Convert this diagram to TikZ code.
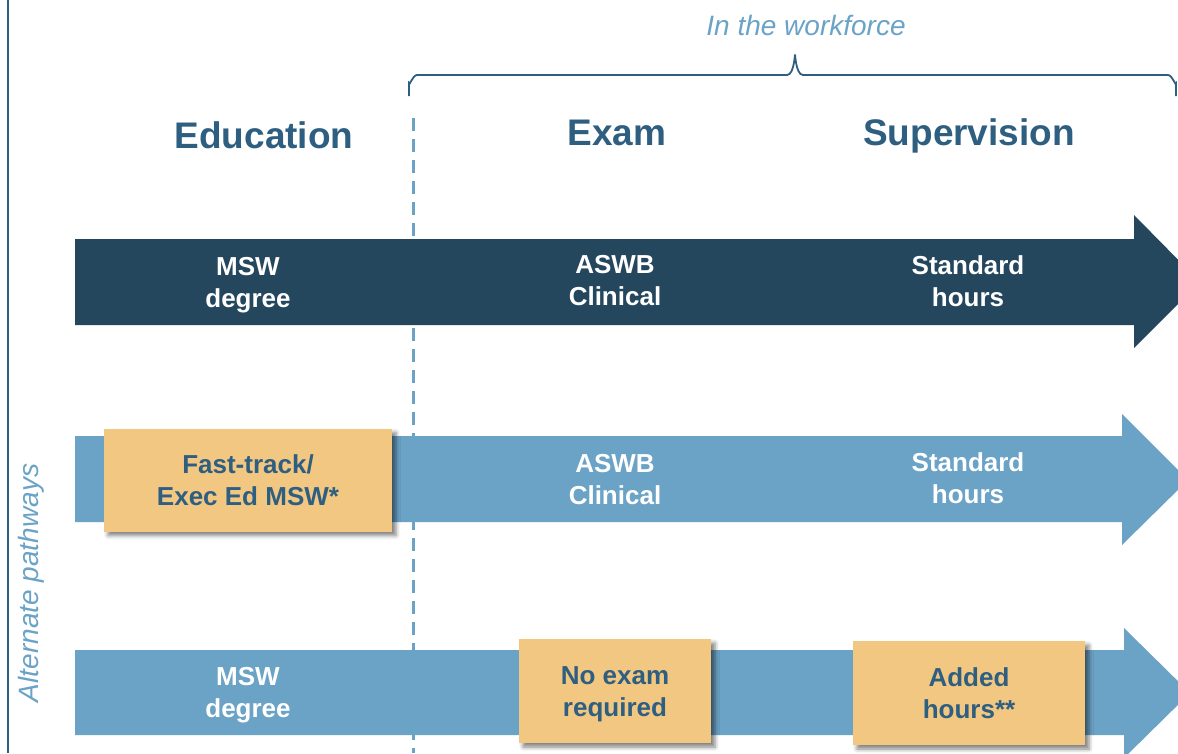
\documentclass[tikz,border=0pt]{standalone}
\usepackage{fontspec}
\setmainfont{Liberation Sans}
\usetikzlibrary{shadows.blur}
\usetikzlibrary{positioning}

\definecolor{headblue}{RGB}{46,94,128}
\definecolor{darkstep}{RGB}{36,71,94}
\definecolor{lightstep}{RGB}{107,163,199}
\definecolor{altorange}{RGB}{242,199,130}

\begin{document}
\begin{tikzpicture}[x=1pt,y=-1pt,
    heading/.style={font=\fontsize{37}{44}\selectfont\bfseries,text=headblue},
    steptext/.style={font=\fontsize{26}{32}\selectfont\bfseries,text=white,align=center},
    altbox/.style={fill=altorange,text=headblue,font=\fontsize{26}{32}\selectfont\bfseries,
        align=center,inner sep=0pt,
        blur shadow={shadow xshift=4pt,shadow yshift=-4pt,shadow blur radius=4pt,shadow opacity=50}},
    note/.style={font=\fontsize{28}{32}\selectfont\itshape,text=lightstep}]
\useasboundingbox (0,0) rectangle (1178,753);
\clip (0,0) rectangle (1178,753);
\draw[headblue,line width=2pt] (8,0) -- (8,753);
\node[note,rotate=90] (alt) at (31,583) {Alternate pathways};
% workforce brace
\node[note] (work) at (806,25) {In the workforce};
\draw[headblue,line width=1.8pt] (409,96) -- (409,83) to[out=-90,in=180] (417,75) -- (787,75)
    to[out=0,in=90] (795,56) to[out=90,in=180] (803,75) -- (1168,75) to[out=0,in=-90] (1176,83) -- (1176,96);
\draw[lightstep,line width=3pt,dash pattern=on 13pt off 8pt] (413,118) -- (413,753);
% headings
\node[heading] (edu) at (264,135) {Education};
\node[heading] (exam) at (617,133) {Exam};
\node[heading] (sup) at (969,136) {Supervision};
% standard path
\fill[darkstep] (75,239) -- (1134,239) -- (1134,215) -- (1200,282) -- (1134,348) -- (1134,325) -- (75,325) -- cycle;
\node[steptext] (msw1) at (248,285) {MSW\\degree};
\node[steptext] (aswb1) at (615,281) {ASWB\\Clinical};
\node[steptext] (std1) at (968,281) {Standard\\hours};
% fast-track path
\fill[lightstep] (75,436) -- (1122,436) -- (1122,414) -- (1188,480) -- (1122,545) -- (1122,522) -- (75,522) -- cycle;
\node[altbox,minimum width=288pt,minimum height=103pt] (fast) at (248,480) {Fast-track/\\Exec Ed MSW*};
\node[steptext] (aswb2) at (615,480) {ASWB\\Clinical};
\node[steptext] (std2) at (968,478) {Standard\\hours};
% added-hours path
\fill[lightstep] (75,650) -- (1124,650) -- (1124,628) -- (1190,693) -- (1124,758) -- (1124,735) -- (75,735) -- cycle;
\node[steptext] (msw3) at (248,695) {MSW\\degree};
\node[altbox,minimum width=192pt,minimum height=104pt] (noexam) at (615,691) {};
\node[text=headblue,font=\fontsize{26}{32}\selectfont\bfseries,align=center] (noexamtext) at (615,694) {No exam\\required};
\node[altbox,minimum width=232pt,minimum height=104pt] (added) at (969,693) {Added\\hours**};
\end{tikzpicture}
\end{document}
